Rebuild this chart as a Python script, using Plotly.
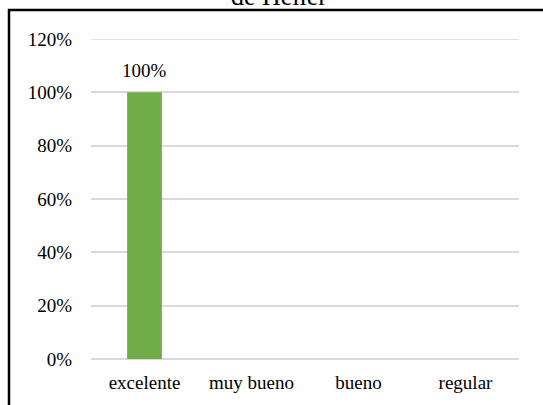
import plotly.graph_objects as go

categories = ["excelente", "muy bueno", "bueno", "regular"]
values = [1.00, 0, 0, 0]
title_text = "de Heller"
ytick_vals = [0, 0.2, 0.4, 0.6, 0.8, 1.0, 1.2]
ytick_text = ["0%", "20%", "40%", "60%", "80%", "100%", "120%"]

W, H = 543, 405
win_left, win_right, win_top, win_bottom = 91, 519, 39.3, 362
L = win_left
R = W - win_right
T = win_top
B = H - win_bottom
pw, ph = W - L - R, H - T - B
YMAX = 1.2

def px_x(p):
    return (p - L) / pw

def px_y(p):
    return (H - B - p) / ph

font_family = "Liberation Serif, Times New Roman, serif"

fig = go.Figure()
fig.add_trace(go.Bar(
    x=categories, y=values,
    marker=dict(color="#70AD47", line=dict(width=0)),
    width=0.325,
    hoverinfo="skip",
))

for c, v in zip(categories, values):
    if v:
        fig.add_annotation(x=c, y=v, xref="x", yref="y", text=f"{v*100:.0f}%",
                           showarrow=False, yanchor="bottom", yshift=9,
                           font=dict(family=font_family, size=19, color="#000000"))

# Title (second line visible, cut at top)
fig.add_annotation(x=px_x(279), y=px_y(10), xref="paper", yref="paper",
                   text=title_text, showarrow=False, xanchor="center", yanchor="bottom",
                   yshift=-3,
                   font=dict(family=font_family, size=26, color="#000000"))

# Chart border
fig.add_shape(type="rect", xref="paper", yref="paper",
              x0=px_x(9), x1=px_x(580), y0=px_y(440), y1=px_y(10),
              line=dict(color="#000000", width=2.5), fillcolor="rgba(0,0,0,0)", layer="above")

fig.add_shape(type="line", xref="paper", yref="y", x0=0, x1=1, y0=YMAX, y1=YMAX,
              line=dict(color="#D9D9D9", width=1.5), layer="below")

fig.update_layout(
    width=W, height=H,
    margin=dict(l=L, r=R, t=T, b=B, pad=0),
    paper_bgcolor="white", plot_bgcolor="white",
    showlegend=False,
    font=dict(family=font_family, size=19, color="#000000"),
    xaxis=dict(showgrid=False, showline=False, ticks="", zeroline=False,
               tickfont=dict(size=19), ticklabelstandoff=10, fixedrange=True),
    yaxis=dict(range=[0, YMAX], tickvals=ytick_vals, ticktext=ytick_text,
               showgrid=True, gridcolor="#D9D9D9", gridwidth=1.5,
               zeroline=True, zerolinecolor="#D9D9D9", zerolinewidth=1.5,
               showline=False, ticks="", ticklabelstandoff=18,
               tickfont=dict(size=19), fixedrange=True),
)

fig.write_html("out.html", config={"displayModeBar": False},
               post_script="document.body.style.margin='0';")
